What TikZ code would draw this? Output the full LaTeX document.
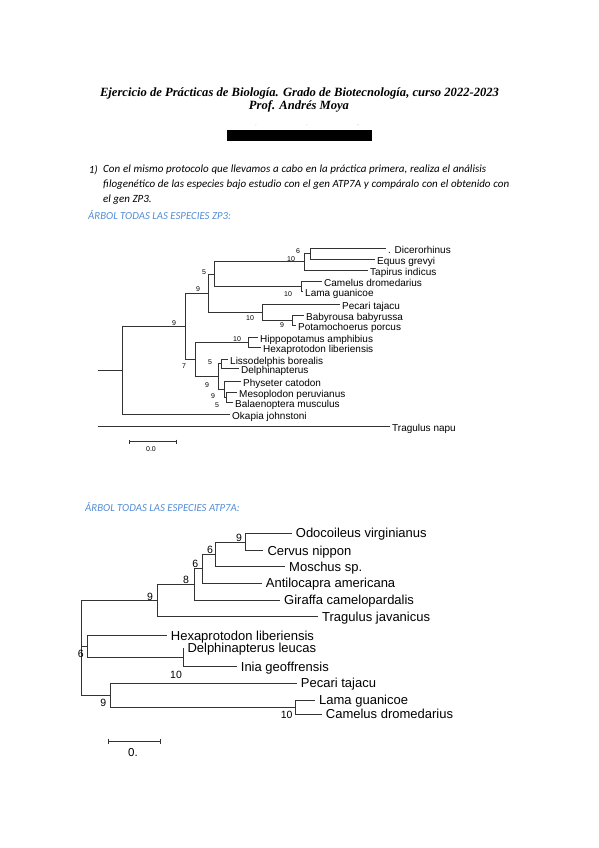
\documentclass[tikz,border=0pt]{standalone}
\usepackage{fontspec}
\setmainfont{Carlito}
\newfontfamily\titlefont{Liberation Serif}
\newfontfamily\treefont{Liberation Sans}
\usetikzlibrary{positioning}
\definecolor{headblue}{RGB}{84,141,212}

\begin{document}
\begin{tikzpicture}[x=1pt, y=-1pt,
    every node/.style={inner sep=0pt},
    br/.style={draw=black!80, line width=0.75pt},
    tipa/.style={anchor=west, inner xsep=2pt, text height=1.3em, text depth=0.21em,
      font=\treefont\fontsize{10}{12}\selectfont},
    tipb/.style={anchor=west, inner xsep=4pt, text height=1.1em, text depth=0.21em,
      font=\treefont\fontsize{13}{15}\selectfont},
    bsa/.style={font=\treefont\fontsize{7}{8}\selectfont},
    bsb/.style={font=\treefont\fontsize{10.5}{12}\selectfont},
    head/.style={anchor=west, text=headblue, font=\itshape\fontsize{10.8}{12}\selectfont},
    qline/.style={anchor=west, font=\itshape\fontsize{11}{13}\selectfont}
  ]
  \useasboundingbox (0,0) rectangle (599,848);

  % Header
  \node (title1) at (299.5,93) {\titlefont\bfseries\itshape\fontsize{12.6}{14}\selectfont Ejercicio de Prácticas de Biología. Grado de Biotecnología, curso 2022-2023};
  \node (title2) at (299,106) {\titlefont\bfseries\itshape\fontsize{12.6}{14}\selectfont Prof. Andrés Moya};
  \fill (227.3,130) rectangle (371.7,140.7);
  \node[text=headblue, font=\fontsize{5}{5}\selectfont] (acc1) at (256,127) {´};
  \node[text=headblue, font=\fontsize{5}{5}\selectfont] (acc2) at (307,127) {´};
  \node[text=headblue, font=\fontsize{5}{5}\selectfont] (acc3) at (358,127) {˜};

  % Question
  \node[qline, anchor=east] (qnum) at (98,170) {1)};
  \node[qline] (q1) at (103,170) {\makebox[383pt][s]{Con el mismo protocolo que llevamos a cabo en la práctica primera, realiza el análisis}};
  \node[qline] (q2) at (103,185) {\makebox[406pt][s]{filogenético de las especies bajo estudio con el gen ATP7A y compáralo con el obtenido con}};
  \node[qline] (q3) at (103,199.5) {el gen ZP3.};
  \node[head] (headzp) at (88,215) {ÁRBOL TODAS LAS ESPECIES ZP3:};

  % Tree ZP3: tips
  \node[tipa] (dice) at (386,248) {. Dicerorhinus};
  \node[tipa] (equus) at (375,259) {Equus grevyi};
  \node[tipa] (tapir) at (368,270) {Tapirus indicus};
  \node[tipa] (camel) at (322,281) {Camelus dromedarius};
  \node[tipa] (lama) at (303,291) {Lama guanicoe};
  \node[tipa] (pecari) at (340,304) {Pecari tajacu};
  \node[tipa] (babyr) at (304,315) {Babyrousa babyrussa};
  \node[tipa] (potam) at (296,325) {Potamochoerus porcus};
  \node[tipa] (hippo) at (258,337) {Hippopotamus amphibius};
  \node[tipa] (hexa) at (261,347) {Hexaprotodon liberiensis};
  \node[tipa] (lisso) at (228,359) {Lissodelphis borealis};
  \node[tipa] (delph) at (239,368) {Delphinapterus};
  \node[tipa] (physe) at (241,381) {Physeter catodon};
  \node[tipa] (mesop) at (237,392) {Mesoplodon peruvianus};
  \node[tipa] (balae) at (233,402) {Balaenoptera musculus};
  \node[tipa] (okapia) at (230,414) {Okapia johnstoni};
  \node[tipa] (tragn) at (390,426) {Tragulus napu};

  % Tree ZP3: inner nodes
  \coordinate (n6a) at (310,253.5);
  \coordinate (n10a) at (304,261.75);
  \coordinate (n10b) at (301,286);
  \coordinate (n5a) at (214,273.9);
  \coordinate (n9c) at (292,320);
  \coordinate (n10c) at (262,312);
  \coordinate (n9a) at (208,293);
  \coordinate (n10d) at (248,342);
  \coordinate (n5b) at (221,363.5);
  \coordinate (n5c) at (226,397);
  \coordinate (n9e) at (224,389);
  \coordinate (n9d) at (218,376);
  \coordinate (n7) at (195,359);
  \coordinate (n9b) at (185,326);
  \coordinate (n9r) at (122.7,370);
  \coordinate (cut1) at (98,370);
  \coordinate (cut2) at (98,426);

  % Tree ZP3: branches
  \draw[br] (n6a) |- (dice.west) (n6a) |- (equus.west);
  \draw[br] (n10a) |- (n6a) (n10a) |- (tapir.west);
  \draw[br] (n10b) |- (camel.west) (n10b) |- (lama.west);
  \draw[br] (n5a) |- (n10a) (n5a) |- (n10b);
  \draw[br] (n9c) |- (babyr.west) (n9c) |- (potam.west);
  \draw[br] (n10c) |- (pecari.west) (n10c) |- (n9c);
  \draw[br] (n9a) |- (n5a) (n9a) |- (n10c);
  \draw[br] (n10d) |- (hippo.west) (n10d) |- (hexa.west);
  \draw[br] (n5b) |- (lisso.west) (n5b) |- (delph.west);
  \draw[br] (n5c) |- (mesop.west) (n5c) |- (balae.west);
  \draw[br] (n9e) |- (physe.west) (n9e) |- (n5c);
  \draw[br] (n9d) |- (n5b) (n9d) |- (n9e);
  \draw[br] (n7) |- (n10d) (n7) |- (n9d);
  \draw[br] (n9b) |- (n9a) (n9b) |- (n7);
  \draw[br] (n9r) |- (n9b) (n9r) |- (okapia.west);
  \draw[br] (cut1) -- (n9r);
  \draw[br] (cut2) -- (tragn.west);

  % Tree ZP3: bootstrap values
  \node[bsa] (b6a) at (298,251) {6};
  \node[bsa] (b10a) at (291,259) {10};
  \node[bsa] (b5a) at (204,272) {5};
  \node[bsa] (b9a) at (198,289) {9};
  \node[bsa] (b10b) at (288,294) {10};
  \node[bsa] (b10c) at (250,318) {10};
  \node[bsa] (b9c) at (282,325) {9};
  \node[bsa] (b9b) at (174,323) {9};
  \node[bsa] (b7) at (184,366) {7};
  \node[bsa] (b10d) at (237,339) {10};
  \node[bsa] (b5b) at (210,362) {5};
  \node[bsa] (b9d) at (207,385) {9};
  \node[bsa] (b9e) at (213,396) {9};
  \node[bsa] (b5c) at (217,405) {5};

  % Tree ZP3: scale
  \coordinate (sa1) at (129,441.7);
  \coordinate (sa2) at (176,441.7);
  \draw[br] (sa1) -- (sa2);
  \draw[br] ([yshift=2pt]sa1) -- ([yshift=-2pt]sa1);
  \draw[br] ([yshift=2pt]sa2) -- ([yshift=-2pt]sa2);
  \node[bsa] (salab) at (151,449) {0.0};

  % Tree ATP7A
  \node[head] (headatp) at (85,507) {ÁRBOL TODAS LAS ESPECIES ATP7A:};

  \node[tipb] (odoc) at (291.7,533.3) {Odocoileus virginianus};
  \node[tipb] (cervus) at (263.3,550.7) {Cervus nippon};
  \node[tipb] (moschus) at (285,566.7) {Moschus sp.};
  \node[tipb] (antilo) at (261.7,583.3) {Antilocapra americana};
  \node[tipb] (giraffa) at (280,600) {Giraffa camelopardalis};
  \node[tipb] (tragj) at (318,616.7) {Tragulus javanicus};
  \node[tipb] (hexb) at (166.7,635.7) {Hexaprotodon liberiensis};
  \node[tipb] (delphb) at (183.3,648.3) {Delphinapterus leucas};
  \node[tipb] (inia) at (236.7,666.7) {Inia geoffrensis};
  \node[tipb] (pecarib) at (296.7,683.3) {Pecari tajacu};
  \node[tipb] (lamab) at (315,700) {Lama guanicoe};
  \node[tipb] (camelb) at (321.7,714.3) {Camelus dromedarius};

  \coordinate (m9a) at (245.7,542);
  \coordinate (m6a) at (215.7,554.3);
  \coordinate (m6b) at (202.7,568.8);
  \coordinate (m8) at (194,584.4);
  \coordinate (m9b) at (157.3,600.5);
  \coordinate (m10a) at (183.3,657.5);
  \coordinate (m6c) at (87.3,646.6);
  \coordinate (m10b) at (295,707.2);
  \coordinate (m9c) at (110.7,695.2);
  \coordinate (mroot) at (81.7,646.6);

  \draw[br] (m9a) |- (odoc.west) (m9a) |- (cervus.west);
  \draw[br] (m6a) |- (m9a) (m6a) |- (moschus.west);
  \draw[br] (m6b) |- (m6a) (m6b) |- (antilo.west);
  \draw[br] (m8) |- (m6b) (m8) |- (giraffa.west);
  \draw[br] (m9b) |- (m8) (m9b) |- (tragj.west);
  \draw[br] (m10a) |- (delphb.west) (m10a) |- (inia.west);
  \draw[br] (m6c) |- (hexb.west) (m6c) |- (m10a);
  \draw[br] (m10b) |- (lamab.west) (m10b) |- (camelb.west);
  \draw[br] (m9c) |- (pecarib.west) (m9c) |- (m10b);
  \draw[br] (mroot) |- (m9b) (mroot) -- (m6c) (mroot) |- (m9c);

  \node[bsb] (c9a) at (239,537.7) {9};
  \node[bsb] (c6a) at (210,550) {6};
  \node[bsb] (c6b) at (195.3,564.3) {6};
  \node[bsb] (c8) at (186,580) {8};
  \node[bsb] (c9b) at (150,596.7) {9};
  \node[bsb] (c6c) at (80.7,654.3) {6};
  \node[bsb] (c10a) at (176,675) {10};
  \node[bsb] (c9c) at (103.3,703.3) {9};
  \node[bsb] (c10b) at (286.7,715) {10};

  \coordinate (sb1) at (108.3,741);
  \coordinate (sb2) at (160.7,741);
  \draw[br] (sb1) -- (sb2);
  \draw[br] ([yshift=2.5pt]sb1) -- ([yshift=-2.5pt]sb1);
  \draw[br] ([yshift=2.5pt]sb2) -- ([yshift=-2.5pt]sb2);
  \node[bsb, font=\treefont\fontsize{11.5}{13}\selectfont] (sblab) at (133,752.5) {0.};
\end{tikzpicture}
\end{document}
